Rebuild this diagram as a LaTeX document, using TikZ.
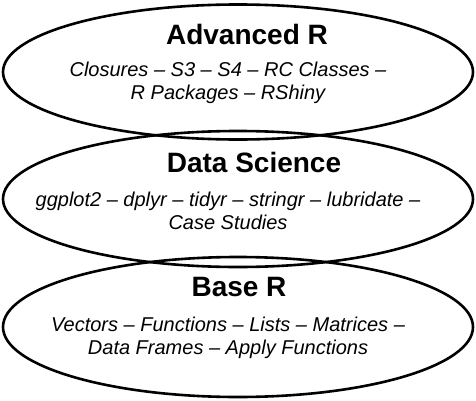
\documentclass[tikz,border=0pt]{standalone}
\usepackage{fontspec}
\setmainfont{Liberation Sans}
\usetikzlibrary{shapes.geometric}

\tikzset{
  layer/.style={draw, ellipse, line width=2.6pt, minimum width=470pt, inner sep=0pt},
  title/.style={font=\bfseries\fontsize{28}{32}\selectfont},
  topics/.style={font=\itshape\fontsize{20}{23.5}\selectfont, align=center}
}

\begin{document}
\begin{tikzpicture}[x=1pt,y=1pt]
  \useasboundingbox (0,0) rectangle (476,400);

  % the three layers
  \node[layer, minimum height=135pt] (adv) at (238,328) {};
  \node[layer, minimum height=136pt] (ds) at (238,201) {};
  \node[layer, minimum height=140pt] (base) at (238,73) {};

  % Advanced R
  \node[title] (advtitle) at (247,366) {Advanced R};
  \node[topics] (advtext) at (228,317) {Closures -- S3 -- S4 -- RC Classes --\\R Packages -- RShiny};

  % Data Science
  \node[title] (dstitle) at (254,238) {Data Science};
  \node[topics] (dstext) at (228,189) {ggplot2 -- dplyr -- tidyr -- stringr -- lubridate --\\Case Studies};

  % Base R
  \node[title] (basetitle) at (239,113) {Base R};
  \node[topics] (basetext) at (228,62) {Vectors -- Functions -- Lists -- Matrices --\\Data Frames -- Apply Functions};
\end{tikzpicture}
\end{document}
